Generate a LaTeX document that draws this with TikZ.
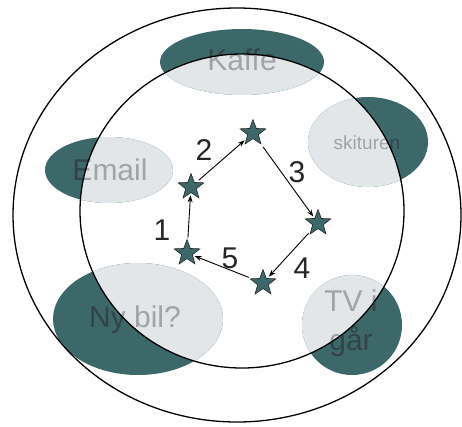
\documentclass[tikz,border=0pt]{standalone}
\usepackage{fontspec}
\setmainfont{Liberation Sans}
\usetikzlibrary{shapes.geometric,arrows.meta}
\definecolor{tealdark}{RGB}{61,104,106}
\definecolor{mist}{RGB}{227,230,233}
\definecolor{inkdark}{RGB}{50,68,72}
\definecolor{inkpale}{RGB}{160,164,167}
% all the topic labels, in one colour, with a suffix for the names
\newcommand{\topiclabels}[2]{%
  \node[topic, text=#1] (kaffe#2) at (242,60) {Kaffe};
  \node[topic, text=#1, font=\fontsize{19}{19}\selectfont] (ski#2) at (367,143) {skituren};
  \node[topic, text=#1] (email#2) at (110,170) {Email};
  \node[topic, text=#1] (bil#2) at (135,320) {Ny bil?};
  \node[topic, text=#1, align=center] (tv#2) at (351,323) {TV i\\går};
}
\begin{document}
\begin{tikzpicture}[x=1pt, y=-1pt,
    topic/.style={font=\fontsize{30}{39}\selectfont, inner sep=0pt},
    starnode/.style={star, star points=5, star point ratio=2.4, minimum size=27pt,
      inner sep=0pt, draw=black!85, line width=0.6pt, fill=tealdark},
    num/.style={font=\fontsize{30}{30}\selectfont, inner sep=0pt, text=black!85},
    hop/.style={-{Stealth[length=7pt,width=5pt]}, line width=0.9pt, shorten >=2pt, shorten <=3pt}]
  \useasboundingbox (0,0) rectangle (462,426);

  % topics: dark outside the inner circle, pale inside it
  \foreach \x/\y/\rx/\ry in {242/62/82/33, 368/142/60/45, 109/170/64/33, 138/319/85/56, 352/325/50/50}
    \fill[tealdark] (\x,\y) ellipse [x radius=\rx, y radius=\ry];
  \topiclabels{inkdark}{}
  \begin{scope}
    \clip (242,211) ellipse [x radius=162, y radius=157];
    \foreach \x/\y/\rx/\ry in {242/62/82/33, 368/142/60/45, 109/170/64/33, 138/319/85/56, 352/325/50/50}
      \fill[mist] (\x,\y) ellipse [x radius=\rx, y radius=\ry];
    \topiclabels{inkpale}{-in}
  \end{scope}

  \draw[line width=1.3pt] (237,215) ellipse [x radius=224, y radius=207];
  \draw[line width=1.3pt] (242,211) ellipse [x radius=162, y radius=157];

  % the route
  \foreach \i/\x/\y in {1/187/253, 2/191/187, 3/253/133, 4/318/223, 5/263/283}
    \node[starnode] (s\i) at (\x,\y) {};
  \foreach \i/\j/\x/\y in {1/2/162/230, 2/3/204/150, 3/4/297/172, 4/5/302/268, 5/1/230/258} {
    \draw[hop] (s\i) -- (s\j);
    \node[num] (n\i) at (\x,\y) {\i};
  }
\end{tikzpicture}
\end{document}
